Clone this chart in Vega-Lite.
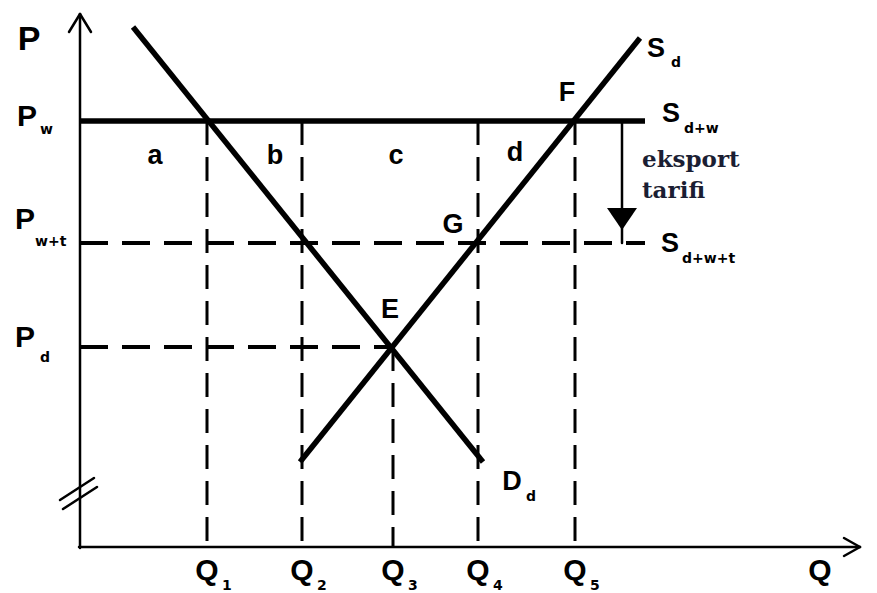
{
  "$schema": "https://vega.github.io/schema/vega-lite/v6.json",
  "width": 877,
  "height": 593,
  "autosize": {"type": "fit", "contains": "padding"},
  "padding": 0,
  "background": "white",
  "config": {"view": {"stroke": null}},
  "datasets": {
    "axes": [
      {"x": 80, "y": 14, "x2": 80, "y2": 548},
      {"x": 79, "y": 547, "x2": 860, "y2": 547},
      {"x": 69, "y": 32, "x2": 80, "y2": 14},
      {"x": 91, "y": 32, "x2": 80, "y2": 14},
      {"x": 844, "y": 538, "x2": 860, "y2": 547},
      {"x": 844, "y": 556, "x2": 860, "y2": 547},
      {"x": 60, "y": 500, "x2": 94, "y2": 478},
      {"x": 63, "y": 509, "x2": 97, "y2": 487},
      {"x": 622, "y": 121, "x2": 622, "y2": 243}
    ],
    "solid": [
      {"x": 133, "y": 27, "x2": 483, "y2": 462},
      {"x": 300, "y": 462, "x2": 640, "y2": 38},
      {"x": 80, "y": 121, "x2": 645, "y2": 121}
    ],
    "dashH": [
      {"x": 80, "y": 243, "x2": 645, "y2": 243},
      {"x": 80, "y": 347, "x2": 393, "y2": 347}
    ],
    "dashV": [
      {"x": 207, "y": 121, "x2": 207, "y2": 547},
      {"x": 302, "y": 121, "x2": 302, "y2": 547},
      {"x": 393, "y": 347, "x2": 393, "y2": 547},
      {"x": 478, "y": 121, "x2": 478, "y2": 547},
      {"x": 575, "y": 121, "x2": 575, "y2": 547}
    ],
    "arrowHead": [{"x": 622, "y": 219}],
    "top": [
      {"x": 29, "y": 40, "t": "P"}
    ],
    "big": [
      {"x": 27, "y": 117, "t": "P"},
      {"x": 25, "y": 220, "t": "P"},
      {"x": 25, "y": 338, "t": "P"},
      {"x": 207, "y": 571, "t": "Q"},
      {"x": 302, "y": 571, "t": "Q"},
      {"x": 393, "y": 571, "t": "Q"},
      {"x": 478, "y": 571, "t": "Q"},
      {"x": 575, "y": 571, "t": "Q"},
      {"x": 820, "y": 571, "t": "Q"}
    ],
    "mid": [
      {"x": 656, "y": 49, "t": "S"},
      {"x": 671, "y": 114, "t": "S"},
      {"x": 670, "y": 244, "t": "S"},
      {"x": 512, "y": 482, "t": "D"},
      {"x": 155, "y": 156, "t": "a"},
      {"x": 275, "y": 156, "t": "b"},
      {"x": 396, "y": 156, "t": "c"},
      {"x": 515, "y": 153, "t": "d"},
      {"x": 567, "y": 93, "t": "F"},
      {"x": 453, "y": 225, "t": "G"},
      {"x": 390, "y": 310, "t": "E"}
    ],
    "sub": [
      {"x": 40, "y": 130, "t": "w"},
      {"x": 35, "y": 242, "t": "w+t"},
      {"x": 40, "y": 358, "t": "d"},
      {"x": 671, "y": 63, "t": "d"},
      {"x": 684, "y": 129, "t": "d+w"},
      {"x": 682, "y": 259, "t": "d+w+t"},
      {"x": 526, "y": 497, "t": "d"},
      {"x": 222, "y": 586, "t": "1"},
      {"x": 317, "y": 586, "t": "2"},
      {"x": 408, "y": 586, "t": "3"},
      {"x": 493, "y": 586, "t": "4"},
      {"x": 590, "y": 586, "t": "5"}
    ],
    "serif": [
      {"x": 642, "y": 160, "t": "eksport"},
      {"x": 642, "y": 191, "t": "tarifi"}
    ]
  },
  "encoding": {
    "x": {"field": "x", "type": "quantitative", "scale": {"domain": [0, 877], "nice": false, "zero": false}, "axis": null},
    "y": {"field": "y", "type": "quantitative", "scale": {"domain": [0, 593], "nice": false, "zero": false, "reverse": true}, "axis": null}
  },
  "layer": [
    {"data": {"name": "axes"}, "mark": {"type": "rule", "strokeWidth": 2.5, "color": "black", "strokeCap": "round"},
     "encoding": {"x2": {"field": "x2"}, "y2": {"field": "y2"}}},
    {"data": {"name": "solid"}, "mark": {"type": "rule", "strokeWidth": 5.5, "color": "black"},
     "encoding": {"x2": {"field": "x2"}, "y2": {"field": "y2"}}},
    {"data": {"name": "dashH"}, "mark": {"type": "rule", "strokeWidth": 4, "color": "black", "strokeDash": [28, 14]},
     "encoding": {"x2": {"field": "x2"}, "y2": {"field": "y2"}}},
    {"data": {"name": "dashV"}, "mark": {"type": "rule", "strokeWidth": 3, "color": "black", "strokeDash": [24, 12]},
     "encoding": {"x2": {"field": "x2"}, "y2": {"field": "y2"}}},
    {"data": {"name": "arrowHead"}, "mark": {"type": "point", "shape": "M-1,-0.73L1,-0.73L0,0.73Z", "filled": true, "color": "black", "size": 900, "opacity": 1, "strokeWidth": 0}},
    {"data": {"name": "top"}, "mark": {"type": "text", "font": "Liberation Sans", "fontSize": 34, "fontWeight": "bold", "align": "center", "baseline": "middle", "color": "black"},
     "encoding": {"text": {"field": "t"}}},
    {"data": {"name": "big"}, "mark": {"type": "text", "font": "Liberation Sans", "fontSize": 30, "fontWeight": "bold", "align": "center", "baseline": "middle", "color": "black"},
     "encoding": {"text": {"field": "t"}}},
    {"data": {"name": "mid"}, "mark": {"type": "text", "font": "Liberation Sans", "fontSize": 27, "fontWeight": "bold", "align": "center", "baseline": "middle", "color": "black"},
     "encoding": {"text": {"field": "t"}}},
    {"data": {"name": "sub"}, "mark": {"type": "text", "font": "DejaVu Sans", "fontSize": 14, "fontWeight": "bold", "align": "left", "baseline": "middle", "color": "black"},
     "encoding": {"text": {"field": "t"}}},
    {"data": {"name": "serif"}, "mark": {"type": "text", "font": "DejaVu Serif", "fontSize": 23, "fontWeight": "bold", "align": "left", "baseline": "middle", "color": "#1b1e33"},
     "encoding": {"text": {"field": "t"}}}
  ]
}
